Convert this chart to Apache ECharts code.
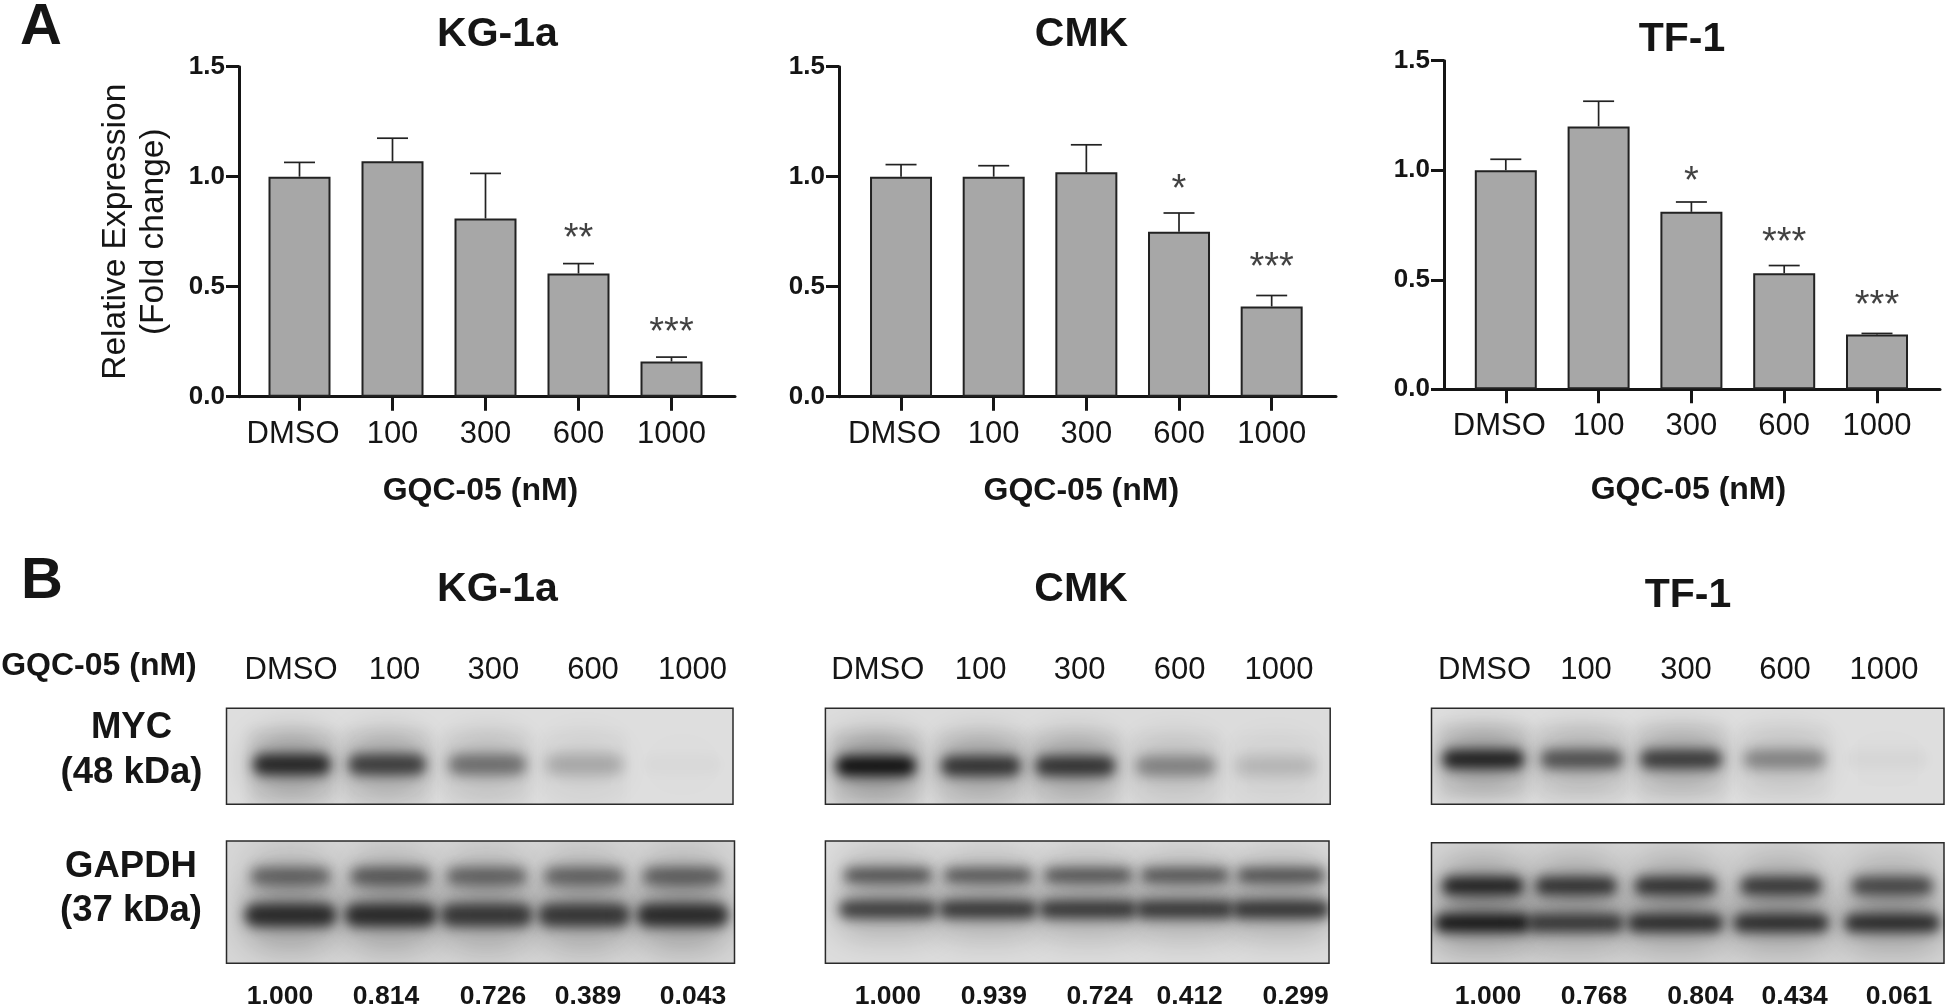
<!DOCTYPE html>
<html><head><meta charset="utf-8">
<style>html,body{margin:0;padding:0;background:#fff}#c{width:1946px;height:1005px}</style>
<script src="https://cdn.jsdelivr.net/npm/echarts@6/dist/echarts.min.js"></script>
</head><body><div id="c"></div>
<script>
// ---------- data ----------
const doses = ['DMSO','100','300','600','1000'];
const cellLines = ['KG-1a','CMK','TF-1'];
const yTicks = [0,0.5,1.0,1.5];

const kgMeans  = [1.00,1.07,0.81,0.56,0.16];
const kgUpper  = [1.065,1.175,1.015,0.605,0.18];
const kgStars  = [[3,0.755,'**'],[4,0.33,'***']];
const cmkMeans = [1.00,1.00,1.02,0.75,0.41];
const cmkUpper = [1.055,1.05,1.145,0.835,0.46];
const cmkStars = [[3,0.977,'*'],[4,0.625,'***']];
const tfMeans  = [1.00,1.20,0.81,0.53,0.25];
const tfUpper  = [1.05,1.315,0.855,0.565,0.255];
const tfStars  = [[2,0.986,'*'],[3,0.708,'***'],[4,0.42,'***']];

const kgRatios  = ['1.000','0.814','0.726','0.389','0.043'];
const cmkRatios = ['1.000','0.939','0.724','0.412','0.299'];
const tfRatios  = ['1.000','0.768','0.804','0.434','0.061'];

// band darkness per lane, 0..1
const kgMyc    = [0.86,0.72,0.46,0.20,0.02];
const kgGapdhU = [0.50,0.55,0.50,0.50,0.52];
const kgGapdhL = [0.84,0.84,0.76,0.76,0.84];
const cmkMyc    = [1.00,0.78,0.78,0.36,0.14];
const cmkGapdhU = [0.60,0.56,0.58,0.58,0.60];
const cmkGapdhL = [0.72,0.76,0.76,0.76,0.78];
const tfMyc    = [0.90,0.62,0.74,0.36,0.03];
const tfGapdhU = [0.88,0.78,0.78,0.74,0.66];
const tfGapdhL = [0.96,0.76,0.82,0.82,0.84];

// lane centres along each blot (percent of its width) and band rows (fraction of its height)
const kgMycLanes    = [12.9,31.7,51.5,70.7,90];
const kgGapdhLanes  = [12.6,32.3,51.2,70.4,89.8];
const cmkMycLanes   = [10,30.8,49.5,69.4,89.2];
const cmkGapdhLanes = [12.4,32.3,52.2,71.4,90.5];
const tfMycLanes    = [10.1,29.3,48.7,68.9,89];
const tfGapdhLanes  = [10,28.2,47.6,68.2,89.9];
const mycRows = [0.585,0.60,0.53];
const gapdhRows = [[0.287,0.607],[0.28,0.56],[0.358,0.666]];

// ---------- layout ----------
const FONT = '"Liberation Sans", Arial, sans-serif';
const INK = '#151515';
const charts = [
  {means:kgMeans, upper:kgUpper, stars:kgStars, axisL:239, axisR:735, bandL:253, bandR:718, top:66.7, bottom:396.7, nameGap:78, nameShift:10},
  {means:cmkMeans,upper:cmkUpper,stars:cmkStars,axisL:839, axisR:1336,bandL:854.7,bandR:1318,top:66.7, bottom:396.7, nameGap:78, nameShift:10},
  {means:tfMeans, upper:tfUpper, stars:tfStars, axisL:1444,axisR:1940,bandL:1459.4,bandR:1923.4,top:60.7,bottom:389.3, nameGap:85, nameShift:6}
];
const blots = [
  {x:226.5,r:733,  y:708.3,b:804.3,smear:true,lanes:kgMycLanes,  rows:[[mycRows[0],kgMyc,78,21]],bg:'#dedede'},
  {x:825.4,r:1330.2,y:708.3,b:804.3,smear:true,lanes:cmkMycLanes, rows:[[mycRows[1],cmkMyc,80,20]],bg:'#dcdcdc'},
  {x:1431.5,r:1944,y:708.3,b:804.3,smear:true,lanes:tfMycLanes,  rows:[[mycRows[2],tfMyc,82,19]],bg:'#dedede'},
  {x:226.5,r:734.5,y:841,  b:963.3,lanes:kgGapdhLanes,rows:[[gapdhRows[0][0],kgGapdhU,80,18],[gapdhRows[0][1],kgGapdhL,92,23]],bg:'#d6d6d6'},
  {x:825.4,r:1329, y:841,  b:963.3,lanes:cmkGapdhLanes,rows:[[gapdhRows[1][0],cmkGapdhU,88,15],[gapdhRows[1][1],cmkGapdhL,98,18]],bg:'#dcdcdc'},
  {x:1431.5,r:1944,y:842.7,b:963.3,lanes:tfGapdhLanes,rows:[[gapdhRows[2][0],tfGapdhU,82,18],[gapdhRows[2][1],tfGapdhL,96,18]],bg:'#d4d4d4'}
];
const laneLabelX = [[291,394.5,493.4,593,692.6],[877.8,980.7,1079.6,1179.6,1279],[1484.5,1586,1686,1785,1884]];
const ratioX = [[280,386,493,588,693],[887.8,993.8,1099.7,1189.7,1295.6],[1488,1594,1700.4,1794.7,1899]];
const ratioSets = [kgRatios,cmkRatios,tfRatios];

const grid=[],xAxis=[],yAxis=[],series=[];

charts.forEach((c,i)=>{
  // frame grid: carries the two axis lines, which overrun the bars
  const g0=grid.length;
  grid.push({left:c.axisL,width:c.axisR-c.axisL,top:c.top,height:c.bottom-c.top});
  xAxis.push({gridIndex:g0,type:'value',min:0,max:1,axisLine:{show:true,lineStyle:{color:INK,width:3}},axisTick:{show:false},axisLabel:{show:false},splitLine:{show:false}});
  yAxis.push({gridIndex:g0,type:'value',min:yTicks[0],max:yTicks[yTicks.length-1],interval:0.5,
    axisLine:{show:true,lineStyle:{color:INK,width:3}},
    axisTick:{show:true,length:13,lineStyle:{color:INK,width:3}},
    axisLabel:{color:INK,fontFamily:FONT,fontWeight:'bold',fontSize:26,margin:14,formatter:v=>v.toFixed(1)},
    splitLine:{show:false},
    name:i===0?'Relative Expression\n(Fold change)':'',nameLocation:'middle',nameRotate:90,nameGap:66,
    nameTextStyle:{color:INK,fontFamily:FONT,fontSize:33.5,lineHeight:38}});
  // bar grid
  const g1=grid.length;
  grid.push({left:c.bandL,width:c.bandR-c.bandL,top:c.top,height:c.bottom-c.top});
  xAxis.push({gridIndex:g1,type:'category',data:doses,
    axisLine:{show:false},
    axisTick:{show:true,alignWithLabel:true,length:14,lineStyle:{color:INK,width:3}},
    axisLabel:{color:INK,fontFamily:FONT,fontSize:31,margin:22,interval:0,
      formatter:v=>v==='DMSO'?'{d|DMSO}':v,
      rich:{d:{color:INK,fontFamily:FONT,fontSize:31,padding:[0,13,0,0]}}},
    name:'GQC-05 (nM)',nameLocation:'middle',nameGap:c.nameGap,
    nameTextStyle:{color:INK,fontFamily:FONT,fontWeight:'bold',fontSize:32,padding:[0,c.nameShift,0,0]}});
  yAxis.push({gridIndex:g1,type:'value',min:0,max:1.5,show:false});
  series.push({type:'bar',xAxisIndex:g1,yAxisIndex:g1,data:c.means,barWidth:62,z:3,
    itemStyle:{color:'#a7a7a7',borderColor:'#222',borderWidth:2}});
  series.push({type:'custom',xAxisIndex:g1,yAxisIndex:g1,z:2,
    data:c.means.map((m,k)=>[k,m,c.upper[k]]),
    renderItem:(p,api)=>{
      const a=api.coord([api.value(0),api.value(1)]),b=api.coord([api.value(0),api.value(2)]);
      const st={stroke:'#222',lineWidth:1.7,fill:null};
      return {type:'group',children:[
        {type:'line',shape:{x1:a[0],y1:a[1],x2:b[0],y2:b[1]},style:st},
        {type:'line',shape:{x1:b[0]-15.5,y1:b[1],x2:b[0]+15.5,y2:b[1]},style:st}
      ]};
    }});
  series.push({type:'scatter',xAxisIndex:g1,yAxisIndex:g1,symbolSize:1,itemStyle:{color:'transparent'},z:4,
    data:c.stars,
    label:{show:true,position:'inside',formatter:p=>p.value[2],color:'#111',fontFamily:FONT,fontSize:38,offset:[0,9]}});
});

const OFF=3000;
function soft(cx,cy,w,h,blur,alpha,r){
  return {type:'rect',silent:true,
    shape:{x:cx-w/2-OFF,y:cy-h/2,width:w,height:h,r:r==null?h/2:r},
    style:{fill:'#000',shadowBlur:blur,shadowColor:'rgba(12,12,12,'+alpha.toFixed(3)+')',shadowOffsetX:OFF,shadowOffsetY:0}};
}
blots.forEach(b=>{
  const g=grid.length;
  grid.push({show:true,left:b.x,width:b.r-b.x,top:b.y,height:b.b-b.y,backgroundColor:b.bg,borderColor:'#2a2a2a',borderWidth:1.5});
  xAxis.push({gridIndex:g,type:'value',min:0,max:100,show:false});
  yAxis.push({gridIndex:g,type:'value',min:0,max:1,inverse:true,show:false});
  b.rows.forEach(r=>{
    const [row,dark,w,h]=r;
    series.push({type:'custom',xAxisIndex:g,yAxisIndex:g,clip:true,z:2,
      data:b.lanes.map((x,k)=>[x,row,dark[k]]),
      renderItem:(p,api)=>{
        const c=api.coord([api.value(0),api.value(1)]),d=api.value(2);
        const kids=[];
        if(b.smear) kids.push(soft(c[0],c[1]+4,w*1.1,76,12,d*0.07,0));
        kids.push(soft(c[0],c[1],w*1.05,h*3,30,d*0.3));
        kids.push(soft(c[0],c[1],w,h,12,Math.min(1,d*0.95)));
        return {type:'group',children:kids};
      }});
  });
});

const graphic=[];
function text(t,x,y,size,bold){
  graphic.push({type:'text',x,y,silent:true,z:10,style:{text:t,fill:INK,font:(bold?'bold ':'')+size+'px '+FONT,textAlign:'center',textVerticalAlign:'middle'}});
}
text('A',41,28,58,true);
text('B',42,582,58,true);
laneLabelX.forEach(xs=>xs.forEach((x,k)=>text(doses[k],x,670,31,false)));
ratioX.forEach((xs,i)=>xs.forEach((x,k)=>text(ratioSets[i][k],x,997,26.5,true)));
text('GQC-05 (nM)',99,666,32,true);
text('MYC',131.5,728,36.5,true);
text('(48 kDa)',131.5,773,36.5,true);
text('GAPDH',131,867,36.5,true);
text('(37 kDa)',131,911,36.5,true);

const titleSpec=[[497.5,35],[1081.5,35],[1682,40],[497.5,590],[1081,590],[1688,596]];
const title=titleSpec.map((s,i)=>({text:cellLines[i%3],left:s[0],top:s[1],padding:0,textAlign:'center',textVerticalAlign:'middle',
  textStyle:{color:INK,fontFamily:FONT,fontWeight:'bold',fontSize:41}}));

const chart=echarts.init(document.getElementById('c'),null,{renderer:'canvas'});
chart.setOption({animation:false,backgroundColor:'#fff',title,grid,xAxis,yAxis,series,graphic,tooltip:{show:false}});
</script></body></html>
